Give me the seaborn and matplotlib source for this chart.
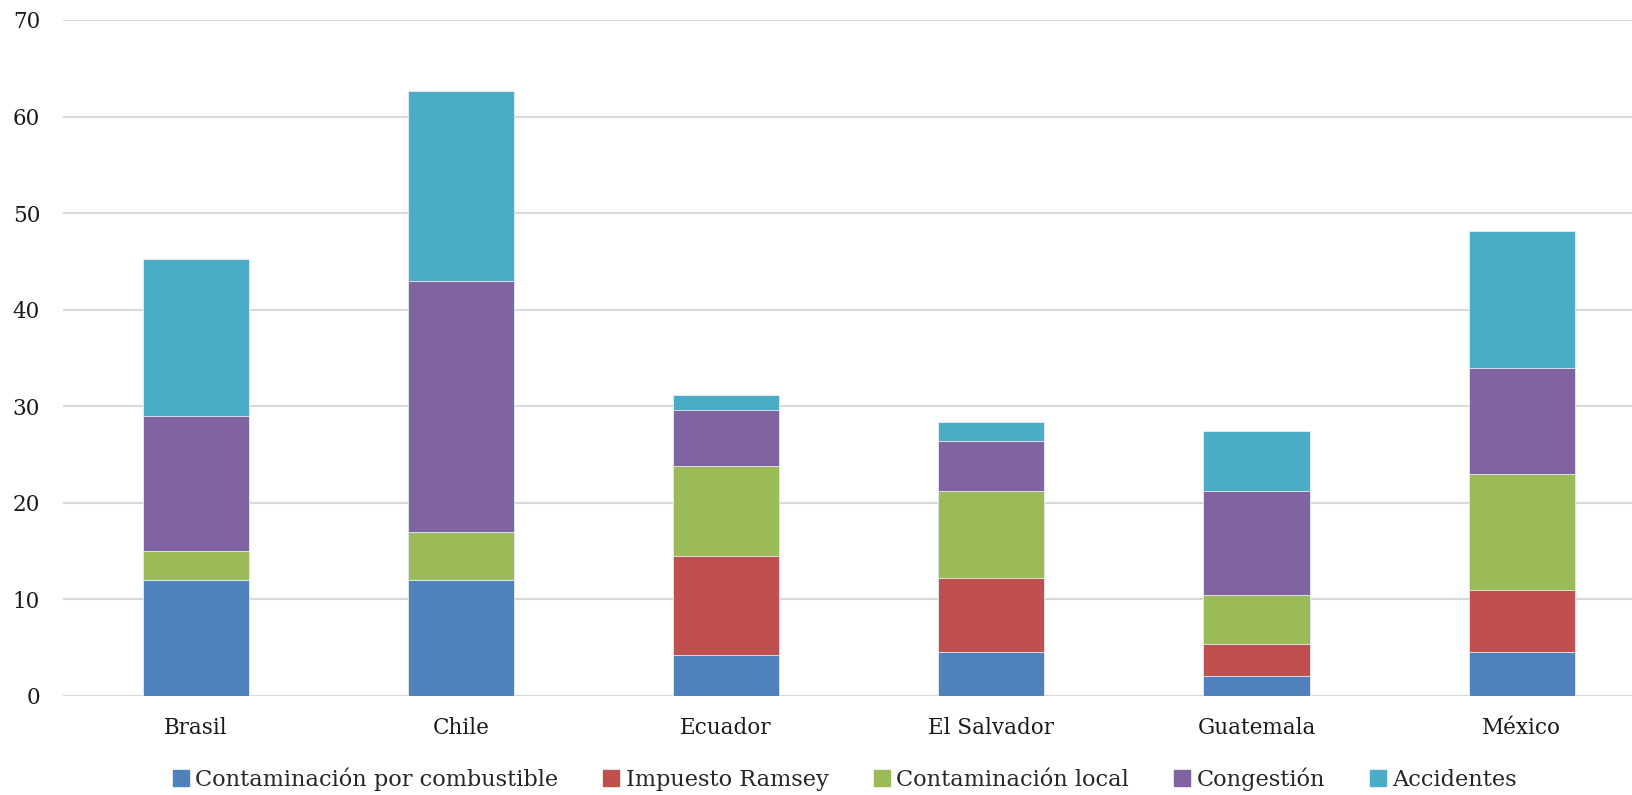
import matplotlib
matplotlib.use("Agg")
import matplotlib.pyplot as plt
import matplotlib.patches as mpatches
import seaborn as sns
import pandas as pd

paises = ["Brasil", "Chile", "Ecuador", "El Salvador", "Guatemala", "México"]
series = ["Contaminación por combustible", "Impuesto Ramsey",
          "Contaminación local", "Congestión", "Accidentes"]
combustible = [12.0, 12.0, 4.2, 4.6, 2.1, 4.6]
ramsey = [0.0, 0.0, 10.3, 7.6, 3.3, 6.4]
local = [3.0, 5.0, 9.3, 9.0, 5.1, 12.0]
congestion = [14.0, 26.0, 5.8, 5.2, 10.7, 11.0]
accidentes = [16.3, 19.6, 1.6, 2.0, 6.2, 14.2]
colores = ["#4F81BD", "#C0504D", "#9BBB59", "#8064A2", "#4BACC6"]

sns.set_style("white")
plt.rcParams["font.family"] = ["DejaVu Serif"]

df = pd.DataFrame([combustible, ramsey, local, congestion, accidentes],
                  index=series, columns=paises).T
cum = df.cumsum(axis=1)

fig = plt.figure(figsize=(16.32, 7.95), dpi=100)
ax = fig.add_axes([63 / 1632, 1 - 696 / 795, 1 - 63 / 1632, (696 - 20) / 795])

# stacked look: draw running totals from the top series down
for s, c in reversed(list(zip(series, colores))):
    sns.barplot(x=paises, y=cum[s].values, color=c, width=0.4, saturation=1,
                edgecolor="#e8eef5", linewidth=0.6, ax=ax, zorder=3)

ax.set_ylim(0, 70)
ax.set_yticks(range(0, 71, 10))
ax.set_xlim(-0.5, 5.416)
ax.yaxis.grid(True, color="#D9D9D9", linewidth=1.5, zorder=0)
ax.set_axisbelow(True)
for sp in ax.spines.values():
    sp.set_visible(False)
ax.tick_params(axis="both", length=0, labelsize=15.5, colors="#1a1a1a")
ax.tick_params(axis="x", pad=15)
ax.tick_params(axis="y", pad=16.5)
ax.set_xlabel("")
ax.set_ylabel("")

handles = [mpatches.Patch(color=c, label=s) for s, c in zip(series, colores)]
fig.legend(handles=handles, loc="center", bbox_to_anchor=(845 / 1632, 1 - 779 / 795),
           ncol=5, frameon=False, handlelength=0.7, handleheight=0.7,
           handletextpad=0.3, columnspacing=2.0,
           prop={"size": 16.2})

fig.savefig("out.png", dpi=100)
